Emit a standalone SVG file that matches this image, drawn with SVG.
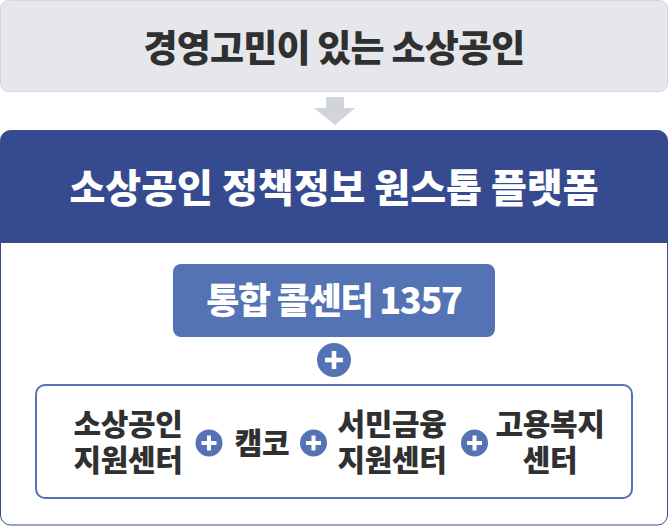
<svg xmlns="http://www.w3.org/2000/svg" width="668" height="526" viewBox="0 0 668 526">
<style>
.t{font-family:"Noto Sans CJK KR","Noto Sans",sans-serif;font-weight:900;text-anchor:middle}
.dark{fill:#303030}
.w{fill:#ffffff}
.plus{fill:#5473b4}
.lbl{font-size:30px;letter-spacing:-0.3px}
</style>
<defs>
<g id="pl">
<circle r="13.5" class="plus"/>
<rect x="-7.5" y="-2" width="15" height="4" fill="#fff"/>
<rect x="-2" y="-7.5" width="4" height="15" fill="#fff"/>
</g>
</defs>
<g id="top">
<rect x="0.5" y="0.5" width="667" height="91" rx="8" fill="#e6e7ec" stroke="#d3d6dc"/>
<text class="t dark" x="334" y="62" font-size="37" letter-spacing="-0.8">경영고민이 있는 소상공인</text>
</g>
<g id="connectors">
<polygon points="326,97 344,97 344,108 355,108 335,125 314,108 326,108" fill="#d1d4db"/>
</g>
<g id="platform">
<rect x="0.5" y="130.5" width="667" height="394.5" rx="10" fill="#fff" stroke="#364b8f"/>
<path d="M0.5,243 V140.5 A10,10 0 0 1 10.5,130.5 H657.5 A10,10 0 0 1 667.5,140.5 V243 Z" fill="#364b8f"/>
<text class="t w" x="334" y="202" font-size="39" letter-spacing="0">소상공인 정책정보 원스톱 플랫폼</text>
</g>
<g id="callcenter">
<rect x="173" y="264" width="322" height="73" rx="8" fill="#5473b4"/>
<text class="t w" x="334" y="314" font-size="36" letter-spacing="-1.3">통합 콜센터 1357</text>
</g>
<g id="plus-main">
<circle cx="334" cy="360" r="17" class="plus"/>
<rect x="325" y="357.7" width="18" height="4.6" fill="#fff"/>
<rect x="331.7" y="351" width="4.6" height="18" fill="#fff"/>
</g>
<g id="centers">
<rect x="36" y="385" width="596" height="113" rx="9" fill="#fff" stroke="#5473b4" stroke-width="2"/>
</g>
<g id="n1">
<text class="t dark lbl" x="128" y="435">소상공인</text>
<text class="t dark lbl" x="128" y="471">지원센터</text>
</g>
<g id="p1"><use href="#pl" x="209" y="443"/></g>
<g id="n2"><text class="t dark lbl" x="262" y="454">캠코</text></g>
<g id="p2"><use href="#pl" x="313.5" y="443"/></g>
<g id="n3">
<text class="t dark lbl" x="392" y="435">서민금융</text>
<text class="t dark lbl" x="392" y="471">지원센터</text>
</g>
<g id="p3"><use href="#pl" x="474.5" y="443"/></g>
<g id="n4">
<text class="t dark lbl" x="550" y="435">고용복지</text>
<text class="t dark lbl" x="550" y="471">센터</text>
</g>
</svg>
